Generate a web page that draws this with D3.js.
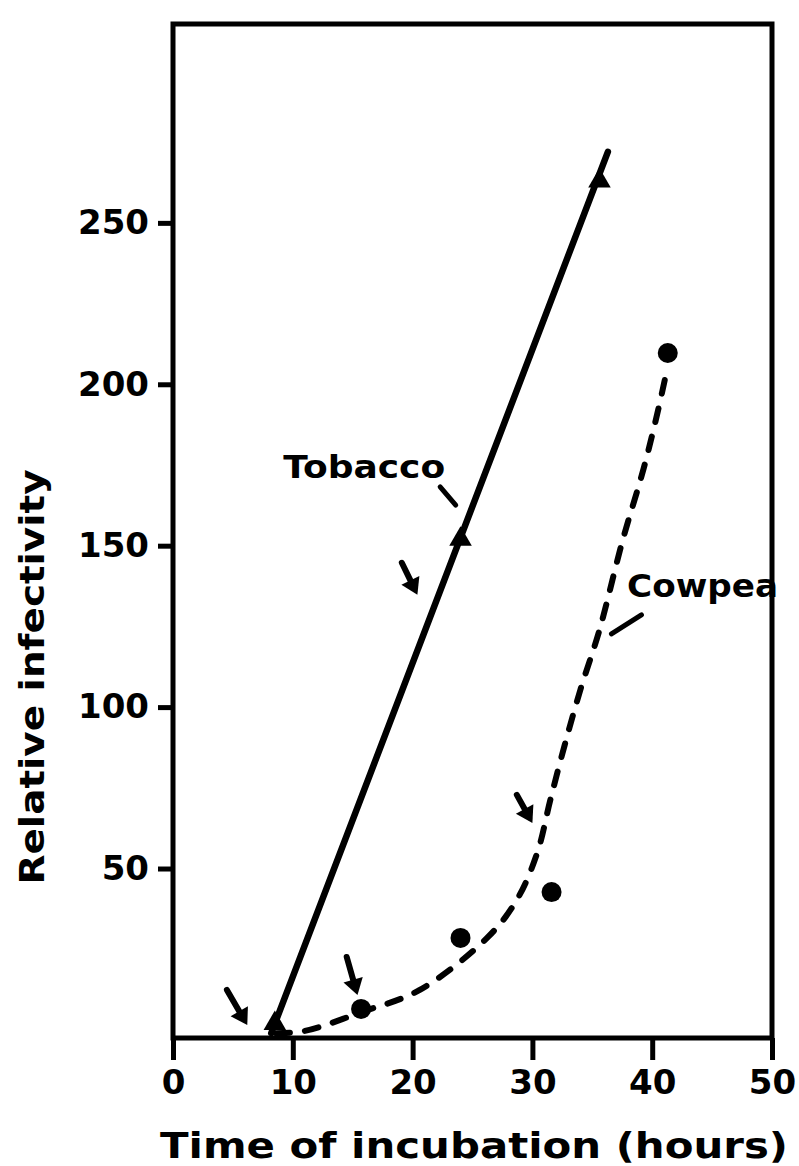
<!DOCTYPE html>
<html>
<head>
<meta charset="utf-8">
<script src="https://cdn.jsdelivr.net/npm/d3@7"></script>
<style>
  body { margin: 0; background: #fff; }
  text { font-family: "DejaVu Sans", sans-serif; font-weight: bold; fill: #000; }
</style>
</head>
<body>
<div id="chart"></div>
<script>
// values
const xTicks = [0, 10, 20, 30, 40, 50];
const yTicks = [50, 100, 150, 200, 250];

// tobacco: triangles + straight fitted line
const tobaccoPts = [[8.5, 2], [24, 152], [35.6, 263]];
const tobaccoLine = [[8.2, -1], [36.3, 272]];

// cowpea: dots + dashed curve drawn by hand
const cowpeaPts = [[15.7, 6.5], [24, 28.5], [31.6, 42.7], [41.3, 209.7]];
const cowpeaCurve = [[8.6, -1], [11, -0.3], [15.8, 5.6], [20.6, 12.4], [26.3, 28.8],
  [28.7, 40.3], [30.4, 54.8], [31.5, 71.3], [32.7, 88.3], [34.0, 105.3], [35.6, 123.9],
  [37.5, 151.2], [39.3, 174.1], [40.5, 192.1], [41.2, 204]];

// small arrows [tailX, tailY, headX, headY]
const arrows = [[4.5, 12.4, 6.2, 1.5], [14.5, 22.6, 15.4, 10.8],
  [19.1, 144.7, 20.4, 134.8], [28.7, 72.8, 30.0, 64.1]];

// labels with leader lines
const seriesLabels = [
  { name: "Tobacco", x: 9.2, y: 171, len: 162, lead: [22.3, 168.2, 23.6, 162.6] },
  { name: "Cowpea", x: 37.9, y: 134, len: 151, lead: [39.1, 128.6, 36.6, 122.7] }
];

const width = 799, height = 1166;
const margin = { top: 24, right: 27, bottom: 128, left: 173 };

const svg = d3.select("#chart")
  .append("svg")
    .attr("width", width)
    .attr("height", height);

const xScale = d3.scaleLinear()
  .domain([0, 50])
  .range([margin.left, width - margin.right]);

const yScale = d3.scaleLinear()
  .domain([-2.5, 311.6])
  .range([height - margin.bottom, margin.top]);

// frame
svg.append("rect")
  .attr("x", xScale(0))
  .attr("y", margin.top)
  .attr("width", xScale(50) - xScale(0))
  .attr("height", yScale(-2.5) - margin.top)
  .attr("fill", "none")
  .attr("stroke", "#000")
  .attr("stroke-width", 5);

// x axis
const gx = svg.append("g")
  .attr("transform", `translate(0, ${yScale(-2.5)})`)
  .call(d3.axisBottom(xScale).tickValues(xTicks).tickSize(22).tickPadding(10));
gx.select(".domain").remove();
gx.selectAll(".tick line").attr("stroke", "#000").attr("stroke-width", 5);
gx.selectAll(".tick text").attr("font-size", "34px").attr("font-family", null);

// y axis
const gy = svg.append("g")
  .attr("transform", `translate(${xScale(0)}, 0)`)
  .call(d3.axisLeft(yScale).tickValues(yTicks).tickSize(15).tickPadding(9));
gy.select(".domain").remove();
gy.selectAll(".tick line").attr("stroke", "#000").attr("stroke-width", 5);
gy.selectAll(".tick text").attr("font-size", "34px").attr("font-family", null);

// axis titles
svg.append("text")
  .attr("x", 474)
  .attr("y", 1158)
  .attr("text-anchor", "middle")
  .attr("font-size", "36px")
  .attr("textLength", 628)
  .attr("lengthAdjust", "spacingAndGlyphs")
  .text("Time of incubation (hours)");

svg.append("text")
  .attr("transform", "translate(44, 677) rotate(-90)")
  .attr("text-anchor", "middle")
  .attr("font-size", "34px")
  .attr("textLength", 415)
  .attr("lengthAdjust", "spacingAndGlyphs")
  .text("Relative infectivity");

// tobacco line
const line = d3.line()
  .x((d) => xScale(d[0]))
  .y((d) => yScale(d[1]));

svg.append("path")
  .datum(tobaccoLine)
  .attr("d", line)
  .attr("fill", "none")
  .attr("stroke", "#000")
  .attr("stroke-width", 6.5)
  .attr("stroke-linecap", "round");

// cowpea dashed curve
svg.append("path")
  .datum(cowpeaCurve)
  .attr("d", line.curve(d3.curveCatmullRom))
  .attr("fill", "none")
  .attr("stroke", "#000")
  .attr("stroke-width", 6)
  .attr("stroke-linecap", "round")
  .attr("stroke-dasharray", "14,15");

// markers
svg.selectAll(".tri")
  .data(tobaccoPts)
  .enter()
  .append("path")
    .attr("class", "tri")
    .attr("transform", (d) => `translate(${xScale(d[0])}, ${yScale(d[1])})`)
    .attr("d", d3.symbol(d3.symbolTriangle, 220))
    .attr("fill", "#000");

svg.selectAll(".dot")
  .data(cowpeaPts)
  .enter()
  .append("circle")
    .attr("class", "dot")
    .attr("cx", (d) => xScale(d[0]))
    .attr("cy", (d) => yScale(d[1]))
    .attr("r", 10)
    .attr("fill", "#000");

// arrows
arrows.forEach((a) => {
  const x1 = xScale(a[0]), y1 = yScale(a[1]), x2 = xScale(a[2]), y2 = yScale(a[3]);
  const ang = Math.atan2(y2 - y1, x2 - x1);
  const hl = 16, hw = 10;
  const bx = x2 - hl * Math.cos(ang), by = y2 - hl * Math.sin(ang);
  svg.append("line")
    .attr("x1", x1).attr("y1", y1).attr("x2", bx + 2 * Math.cos(ang)).attr("y2", by + 2 * Math.sin(ang))
    .attr("stroke", "#000").attr("stroke-width", 6).attr("stroke-linecap", "round");
  svg.append("path")
    .attr("d", `M${x2},${y2}L${bx + hw * Math.sin(ang)},${by - hw * Math.cos(ang)}L${bx - hw * Math.sin(ang)},${by + hw * Math.cos(ang)}Z`)
    .attr("fill", "#000");
});

// series labels
seriesLabels.forEach((s) => {
  svg.append("text")
    .attr("x", xScale(s.x))
    .attr("y", yScale(s.y))
    .attr("font-size", "32px")
    .attr("textLength", s.len)
    .attr("lengthAdjust", "spacingAndGlyphs")
    .text(s.name);
  svg.append("line")
    .attr("x1", xScale(s.lead[0])).attr("y1", yScale(s.lead[1]))
    .attr("x2", xScale(s.lead[2])).attr("y2", yScale(s.lead[3]))
    .attr("stroke", "#000").attr("stroke-width", 5).attr("stroke-linecap", "round");
});
</script>
</body>
</html>
